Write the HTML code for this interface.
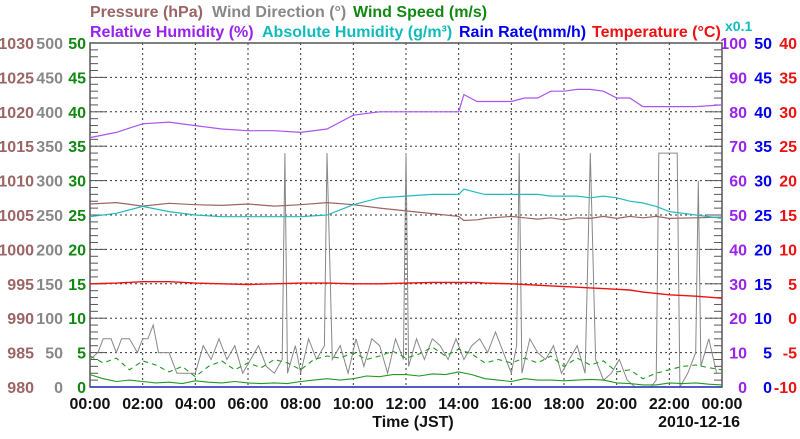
<!DOCTYPE html>
<html><head><meta charset="utf-8"><style>
body{margin:0;background:#fff;width:800px;height:434px;overflow:hidden}
svg{font-family:"Liberation Sans",sans-serif;font-weight:bold}
</style></head><body>
<svg id="c" width="800" height="434"></svg>
<script>
const hours=[0,2,4,6,8,10,12,14,16,18,20,22,24];
const hourLabels=["00:00","02:00","04:00","06:00","08:00","10:00","12:00","14:00","16:00","18:00","20:00","22:00","00:00"];
const pressureTicks=[980,985,990,995,1000,1005,1010,1015,1020,1025,1030];
const windDirTicks=[0,50,100,150,200,250,300,350,400,450,500];
const windSpdTicks=[0,5,10,15,20,25,30,35,40,45,50];
const rhTicks=[0,10,20,30,40,50,60,70,80,90,100];
const rainTicks=[0,5,10,15,20,25,30,35,40,45,50];
const tempTicks=[-10,-5,0,5,10,15,20,25,30,35,40];
const tT=[0,1,2,3,4,5,6,7,8,9,10,11,12,13,14,14.2,14.7,15,16,16.5,17,17.5,18,18.5,19,19.5,20,20.5,21,21.5,22,23,24];
const pressure=[1006.6,1006.8,1006.3,1006.7,1006.5,1006.4,1006.6,1006.3,1006.5,1006.8,1006.5,1006.0,1005.6,1005.2,1004.8,1004.2,1004.3,1004.5,1004.8,1004.6,1004.4,1004.6,1004.3,1004.6,1004.5,1004.8,1004.5,1004.8,1004.6,1004.8,1004.5,1004.6,1004.7];
const relHum=[72.5,74,76.5,77,76,75,74.5,74.5,74,75,79,80,80,80,80,85,83,83,83,84,84,86,86,86.5,86.5,86,84,84,81.5,81.5,81.5,81.5,82];
const absHum=[49.5,50.5,52.5,51,50,49.5,49.5,49.5,49.5,50,53,55,55.5,56,56,57.5,56.5,56,56,56,56,55.5,55.5,55.5,55,55.5,55,54,53.5,52.5,51,50,49];
const temp=[5,5.1,5.3,5.3,5.1,5,4.9,5,5.1,5.1,5,5,5.1,5.2,5.2,5.2,5.2,5.1,5,4.9,4.8,4.7,4.6,4.5,4.4,4.3,4.2,4.1,3.8,3.6,3.4,3.2,2.9];
const rain=[0,0];const rainT=[0,24];
const wdT=[0,0.3,0.5,0.8,1,1.2,1.5,1.8,2,2.2,2.4,2.6,3,3.3,3.6,4,4.3,4.6,4.9,5.2,5.5,5.8,6.1,6.4,6.7,7,7.3,7.4,7.5,7.8,8,8.3,8.6,8.9,9,9.2,9.5,9.8,10.1,10.4,10.7,11,11.3,11.6,11.9,12,12.1,12.4,12.7,13,13.3,13.6,13.9,14.2,14.5,14.8,15.1,15.4,15.7,16,16.2,16.3,16.4,16.7,17,17.3,17.6,17.9,18.2,18.5,18.8,19,19.2,19.5,19.8,20.1,20.4,20.7,21,21.3,21.5,21.6,22.3,22.4,22.7,23,23.1,23.2,23.5,23.8,24];
const windDir=[40,50,70,70,50,70,70,50,70,70,90,50,50,20,20,20,60,40,70,40,60,20,40,60,30,20,40,340,20,60,20,70,40,60,340,40,60,20,70,30,70,60,20,70,40,340,30,70,40,70,60,40,70,40,60,70,50,80,50,20,60,340,20,70,50,40,60,20,40,60,20,340,40,10,20,40,10,0,0,0,10,340,340,0,20,50,300,30,70,20,20];
const wsT=[0,0.5,1,1.5,2,2.5,3,3.5,4,4.5,5,5.5,6,6.5,7,7.5,8,8.5,9,9.5,10,10.5,11,11.5,12,12.5,13,13.5,14,14.5,15,15.5,16,16.5,17,17.5,18,18.5,19,19.5,20,20.5,21,21.5,22,22.5,23,23.5,24];
const windSpd=[1.8,1.2,0.8,1.0,0.8,0.6,0.7,0.5,0.9,0.7,0.6,0.8,0.6,0.5,0.6,0.5,0.8,1.0,1.2,1.0,1.2,1.6,1.5,1.8,1.8,1.6,1.9,1.8,2.2,1.8,1.2,1.0,0.8,1.2,1.0,1.0,0.9,1.0,1.1,1.0,0.6,0.5,0.3,0.3,0.6,0.5,0.6,0.4,0.3];
const windGust=[4.5,3.5,4.2,2.5,3.8,3.2,2.2,3.0,1.5,3.0,3.8,2.5,3.5,2.8,4.0,3.5,2.5,4.0,4.5,4.2,5.0,4.0,4.5,5.2,4.2,4.8,5.8,4.5,5.5,4.8,3.5,4.0,3.5,4.2,3.5,4.5,3.0,4.2,3.2,3.8,2.2,2.5,1.2,2.0,2.5,3.0,3.2,2.8,2.5];
const X0=90,X1=722,Y0=43,Y1=387;
const svg=document.getElementById('c');const NS='http://www.w3.org/2000/svg';
const fx=h=>X0+(X1-X0)*h/24;
const fy=f=>Y1-(Y1-Y0)*f;
function el(t,a,p){const e=document.createElementNS(NS,t);for(const k in a)e.setAttribute(k,a[k]);(p||svg).appendChild(e);return e;}
function txt(x,y,s,fill,anchor,size){const e=el('text',{x:x,y:y,fill:fill,'text-anchor':anchor||'start','font-size':size||15});e.textContent=s;return e;}
for(let i=1;i<12;i++){const g=el('line',{x1:fx(hours[i]),x2:fx(hours[i]),y1:Y0,y2:Y1,stroke:'#333','stroke-dasharray':'2,3','stroke-width':1});

}
for(let i=1;i<10;i++){const y=fy(i/10);const g=el('line',{x1:X0,x2:X1,y1:y,y2:y,stroke:'#333','stroke-dasharray':'2,3','stroke-width':1});

}
for(let i=0;i<=50;i++){const y=fy(i/50);const L=i%5==0?16:8;
el('line',{x1:X0,x2:X0+L,y1:y,y2:y,stroke:'#555'});el('line',{x1:X1-L,x2:X1,y1:y,y2:y,stroke:'#555'});}
const fr=el('rect',{x:X0,y:Y0,width:X1-X0,height:Y1-Y0,fill:'none',stroke:'#555','stroke-width':1.5});


for(let i=0;i<=10;i++){const y=fy(i/10)+6;
let t=txt(34,y,pressureTicks[i],'#9b6565','end',16);
t=txt(63,y,windDirTicks[i],'#888','end',16);
t=txt(86,y,windSpdTicks[i],'#118811','end',16);
t=txt(747,y,rhTicks[i],'#9922ee','end',16);
t=txt(772,y,rainTicks[i],'#0000ee','end',16);
t=txt(797,y,tempTicks[i],'#ee1111','end',16);}
for(let i=0;i<hours.length;i++){const t=txt(fx(hours[i]),409,hourLabels[i],'#111','middle',16);

}
let t=txt(413,427,'Time (JST)','#111','middle',16);
t=txt(740,427,'2010-12-16','#111','end',16);
const tl=[[90,17,'Pressure (hPa)','#9b6565','pressure-title'],[212,17,'Wind Direction (°)','#888','wind-direction-title'],[353,17,'Wind Speed (m/s)','#118811','wind-speed-title'],
[90,37,'Relative Humidity (%)','#9922ee','humidity-title'],[262,37,'Absolute Humidity (g/m³)','#11bbbb','abs-humidity-title'],[459,37,'Rain Rate(mm/h)','#0000ee','rain-title'],[592,37,'Temperature (°C)','#ee1111','temperature-title'],[725,31,'x0.1','#11bbbb','scale-note']];
tl.forEach(a=>{const e=txt(a[0],a[1],a[2],a[3],'start',a[2]=='x0.1'?14:16);});
function line(ts,vs,f,stroke,name,dash,w){let d='';for(let i=0;i<ts.length;i++)d+=(i?'L':'M')+fx(ts[i]).toFixed(1)+','+fy(f(vs[i])).toFixed(1);
const p=el('path',{d:d,fill:'none',stroke:stroke,'stroke-width':w||1.2});if(dash)p.setAttribute('stroke-dasharray',dash);

return p;}
line(wdT,windDir,v=>v/500,'#888','wind-direction-line',null,1);
line(wsT,windGust,v=>v/50,'#229922','wind-gust-line','5,4',1.1);
line(wsT,windSpd,v=>v/50,'#229922','wind-speed-line',null,1.1);
line(rainT,rain,v=>v/50,'#3344cc','rain-line',null,1.5);
line(tT,pressure,v=>(v-980)/50,'#9b6565','pressure-line');
line(tT,absHum,v=>v/100,'#22bbbb','abs-humidity-line');
line(tT,relHum,v=>v/100,'#aa55ee','humidity-line');
line(tT,temp,v=>(v+10)/50,'#ee1111','temperature-line',null,1.4);
</script></body></html>
